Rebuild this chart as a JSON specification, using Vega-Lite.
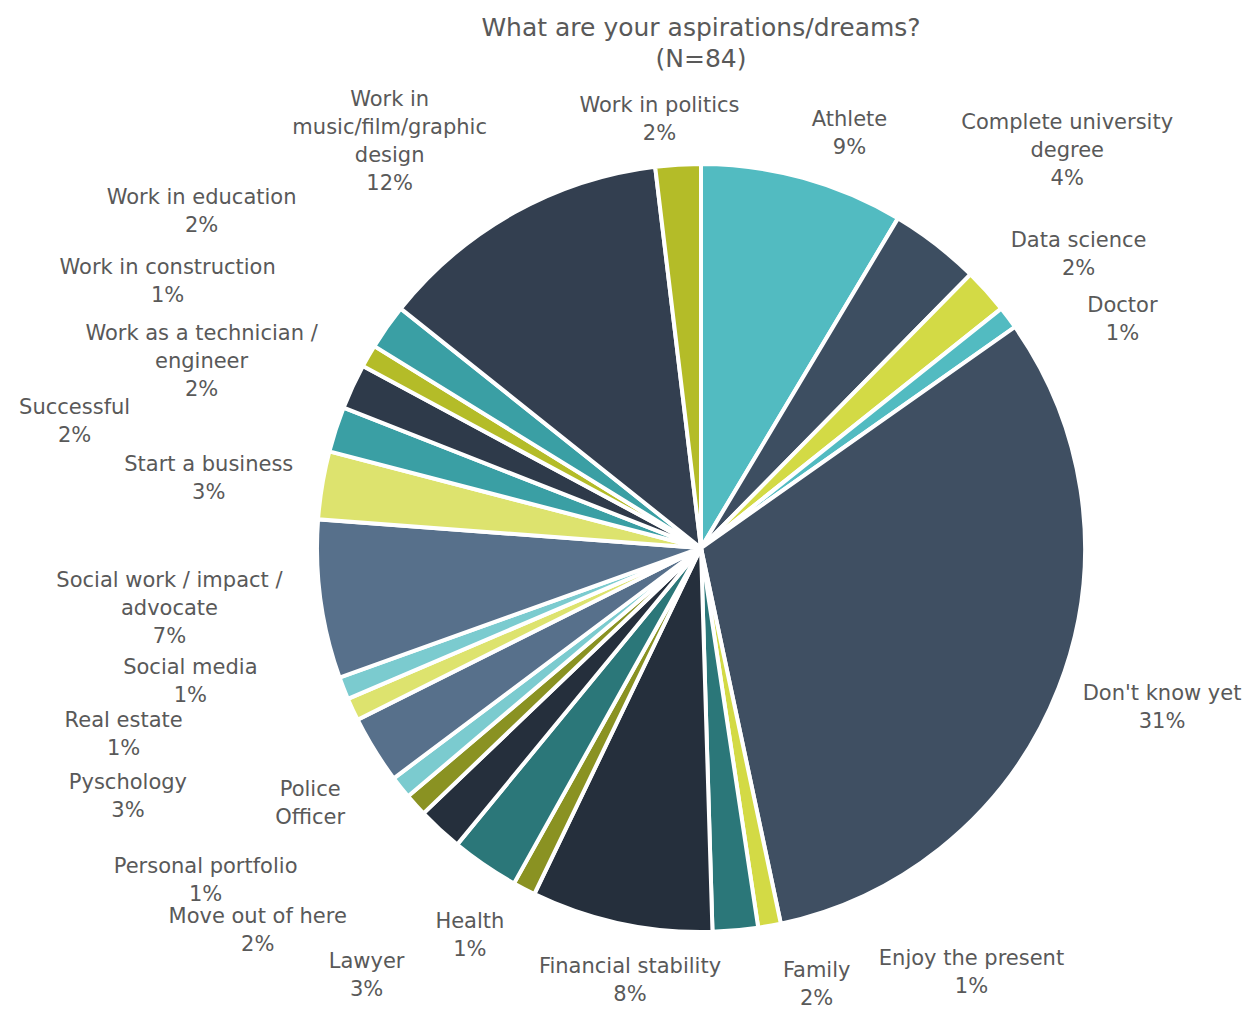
{
  "$schema": "https://vega.github.io/schema/vega-lite/v6.json",
  "width": 1092,
  "height": 932,
  "autosize": {"type": "none"},
  "padding": {"left": 155, "top": 82, "right": 0, "bottom": 0},
  "background": "white",
  "title": {
    "text": ["What are your aspirations/dreams?", "(N=84)"],
    "fontSize": 25,
    "font": "DejaVu Sans",
    "fontWeight": "normal",
    "color": "#595959",
    "anchor": "middle",
    "lineHeight": 31,
    "offset": 10
  },
  "config": {
    "view": {"stroke": null},
    "text": {"font": "DejaVu Sans", "fontSize": 21, "color": "#595959", "lineBreak": "\n", "lineHeight": 28, "align": "center", "baseline": "middle"}
  },
  "data": {
    "values": [
      {"name": "Athlete", "count": 9, "label": "Athlete\n9%"},
      {"name": "Complete university degree", "count": 4, "label": "Complete university\ndegree\n4%"},
      {"name": "Data science", "count": 2, "label": "Data science\n2%"},
      {"name": "Doctor", "count": 1, "label": "Doctor\n1%"},
      {"name": "Don't know yet", "count": 33, "label": "Don't know yet\n31%"},
      {"name": "Enjoy the present", "count": 1, "label": "Enjoy the present\n1%"},
      {"name": "Family", "count": 2, "label": "Family\n2%"},
      {"name": "Financial stability", "count": 8, "label": "Financial stability\n8%"},
      {"name": "Health", "count": 1, "label": "Health\n1%"},
      {"name": "Lawyer", "count": 3, "label": "Lawyer\n3%"},
      {"name": "Move out of here", "count": 2, "label": "Move out of here\n2%"},
      {"name": "Personal portfolio", "count": 1, "label": "Personal portfolio\n1%"},
      {"name": "Police Officer", "count": 1, "label": "Police\nOfficer"},
      {"name": "Pyschology", "count": 3, "label": "Pyschology\n3%"},
      {"name": "Real estate", "count": 1, "label": "Real estate\n1%"},
      {"name": "Social media", "count": 1, "label": "Social media\n1%"},
      {"name": "Social work / impact / advocate", "count": 7, "label": "Social work / impact /\nadvocate\n7%"},
      {"name": "Start a business", "count": 3, "label": "Start a business\n3%"},
      {"name": "Successful", "count": 2, "label": "Successful\n2%"},
      {"name": "Work as a technician / engineer", "count": 2, "label": "Work as a technician /\nengineer\n2%"},
      {"name": "Work in construction", "count": 1, "label": "Work in construction\n1%"},
      {"name": "Work in education", "count": 2, "label": "Work in education\n2%"},
      {"name": "Work in music/film/graphic design", "count": 13, "label": "Work in\nmusic/film/graphic\ndesign\n12%"},
      {"name": "Work in politics", "count": 2, "label": "Work in politics\n2%"}
    ]
  },
  "transform": [
    {"stack": "count", "groupby": [], "sort": [{"field": "name", "order": "ascending"}], "as": ["c0", "c1"]}
  ],
  "layer": [
    {
      "mark": {"type": "arc", "outerRadius": 384, "stroke": "white", "strokeWidth": 4},
      "encoding": {
        "theta": {"field": "c0", "type": "quantitative", "stack": null, "scale": {"domain": [0, 105]}},
        "theta2": {"field": "c1"},
        "color": {
          "field": "name", "type": "nominal", "legend": null,
          "scale": {
            "domain": ["Athlete", "Complete university degree", "Data science", "Doctor", "Don't know yet", "Enjoy the present", "Family", "Financial stability", "Health", "Lawyer", "Move out of here", "Personal portfolio", "Police Officer", "Pyschology", "Real estate", "Social media", "Social work / impact / advocate", "Start a business", "Successful", "Work as a technician / engineer", "Work in construction", "Work in education", "Work in music/film/graphic design", "Work in politics"],
            "range": ["#52BBC1", "#3D4E61", "#D3DA45", "#52BBC1", "#3F4F62", "#D3DA45", "#2B7779", "#252F3C", "#8A9222", "#2B7779", "#252F3C", "#8A9222", "#7BCBCF", "#57708B", "#DDE36E", "#7BCBCF", "#57708B", "#DDE36E", "#3A9FA4", "#2E3A4A", "#B4BC28", "#3A9FA4", "#333F50", "#B4BC28"]
          }
        }
      }
    },
    {"transform": [{"filter": {"field": "name", "equal": "Athlete"}}, {"fold": ["c0", "c1"], "as": ["k", "v"]}], "mark": {"type": "text", "radius": 440, "thetaOffset": 0.075, "dy": -14}, "encoding": {"theta": {"aggregate": "mean", "field": "v", "type": "quantitative"}, "text": {"field": "label", "type": "nominal"}}},
    {"transform": [{"filter": {"field": "name", "equal": "Complete university degree"}}, {"fold": ["c0", "c1"], "as": ["k", "v"]}], "mark": {"type": "text", "radius": 540, "thetaOffset": 0.087, "dy": -28}, "encoding": {"theta": {"aggregate": "mean", "field": "v", "type": "quantitative"}, "text": {"field": "label", "type": "nominal"}}},
    {"transform": [{"filter": {"field": "name", "equal": "Data science"}}, {"fold": ["c0", "c1"], "as": ["k", "v"]}], "mark": {"type": "text", "radius": 478, "thetaOffset": 0.073, "dy": -14}, "encoding": {"theta": {"aggregate": "mean", "field": "v", "type": "quantitative"}, "text": {"field": "label", "type": "nominal"}}},
    {"transform": [{"filter": {"field": "name", "equal": "Doctor"}}, {"fold": ["c0", "c1"], "as": ["k", "v"]}], "mark": {"type": "text", "radius": 479, "thetaOffset": 0.148, "dy": -14}, "encoding": {"theta": {"aggregate": "mean", "field": "v", "type": "quantitative"}, "text": {"field": "label", "type": "nominal"}}},
    {"transform": [{"filter": {"field": "name", "equal": "Don't know yet"}}, {"fold": ["c0", "c1"], "as": ["k", "v"]}], "mark": {"type": "text", "radius": 488, "thetaOffset": -0.04, "dy": -14}, "encoding": {"theta": {"aggregate": "mean", "field": "v", "type": "quantitative"}, "text": {"field": "label", "type": "nominal"}}},
    {"transform": [{"filter": {"field": "name", "equal": "Enjoy the present"}}, {"fold": ["c0", "c1"], "as": ["k", "v"]}], "mark": {"type": "text", "radius": 504, "thetaOffset": -0.387, "dy": -14}, "encoding": {"theta": {"aggregate": "mean", "field": "v", "type": "quantitative"}, "text": {"field": "label", "type": "nominal"}}},
    {"transform": [{"filter": {"field": "name", "equal": "Family"}}, {"fold": ["c0", "c1"], "as": ["k", "v"]}], "mark": {"type": "text", "radius": 452, "thetaOffset": -0.169, "dy": -14}, "encoding": {"theta": {"aggregate": "mean", "field": "v", "type": "quantitative"}, "text": {"field": "label", "type": "nominal"}}},
    {"transform": [{"filter": {"field": "name", "equal": "Financial stability"}}, {"fold": ["c0", "c1"], "as": ["k", "v"]}], "mark": {"type": "text", "radius": 439, "thetaOffset": -0.047, "dy": -14}, "encoding": {"theta": {"aggregate": "mean", "field": "v", "type": "quantitative"}, "text": {"field": "label", "type": "nominal"}}},
    {"transform": [{"filter": {"field": "name", "equal": "Health"}}, {"fold": ["c0", "c1"], "as": ["k", "v"]}], "mark": {"type": "text", "radius": 452, "thetaOffset": 0.058, "dy": -14}, "encoding": {"theta": {"aggregate": "mean", "field": "v", "type": "quantitative"}, "text": {"field": "label", "type": "nominal"}}},
    {"transform": [{"filter": {"field": "name", "equal": "Lawyer"}}, {"fold": ["c0", "c1"], "as": ["k", "v"]}], "mark": {"type": "text", "radius": 543, "thetaOffset": 0.065, "dy": -14}, "encoding": {"theta": {"aggregate": "mean", "field": "v", "type": "quantitative"}, "text": {"field": "label", "type": "nominal"}}},
    {"transform": [{"filter": {"field": "name", "equal": "Move out of here"}}, {"fold": ["c0", "c1"], "as": ["k", "v"]}], "mark": {"type": "text", "radius": 586, "thetaOffset": 0.11, "dy": -14}, "encoding": {"theta": {"aggregate": "mean", "field": "v", "type": "quantitative"}, "text": {"field": "label", "type": "nominal"}}},
    {"transform": [{"filter": {"field": "name", "equal": "Personal portfolio"}}, {"fold": ["c0", "c1"], "as": ["k", "v"]}], "mark": {"type": "text", "radius": 597, "thetaOffset": 0.141, "dy": -14}, "encoding": {"theta": {"aggregate": "mean", "field": "v", "type": "quantitative"}, "text": {"field": "label", "type": "nominal"}}},
    {"transform": [{"filter": {"field": "name", "equal": "Police Officer"}}, {"fold": ["c0", "c1"], "as": ["k", "v"]}], "mark": {"type": "text", "radius": 467, "thetaOffset": 0.094, "dy": -14}, "encoding": {"theta": {"aggregate": "mean", "field": "v", "type": "quantitative"}, "text": {"field": "label", "type": "nominal"}}},
    {"transform": [{"filter": {"field": "name", "equal": "Pyschology"}}, {"fold": ["c0", "c1"], "as": ["k", "v"]}], "mark": {"type": "text", "radius": 625, "thetaOffset": 0.143, "dy": -14}, "encoding": {"theta": {"aggregate": "mean", "field": "v", "type": "quantitative"}, "text": {"field": "label", "type": "nominal"}}},
    {"transform": [{"filter": {"field": "name", "equal": "Real estate"}}, {"fold": ["c0", "c1"], "as": ["k", "v"]}], "mark": {"type": "text", "radius": 607, "thetaOffset": 0.12, "dy": -14}, "encoding": {"theta": {"aggregate": "mean", "field": "v", "type": "quantitative"}, "text": {"field": "label", "type": "nominal"}}},
    {"transform": [{"filter": {"field": "name", "equal": "Social media"}}, {"fold": ["c0", "c1"], "as": ["k", "v"]}], "mark": {"type": "text", "radius": 528, "thetaOffset": 0.117, "dy": -14}, "encoding": {"theta": {"aggregate": "mean", "field": "v", "type": "quantitative"}, "text": {"field": "label", "type": "nominal"}}},
    {"transform": [{"filter": {"field": "name", "equal": "Social work / impact / advocate"}}, {"fold": ["c0", "c1"], "as": ["k", "v"]}], "mark": {"type": "text", "radius": 535, "thetaOffset": 0.021, "dy": -28}, "encoding": {"theta": {"aggregate": "mean", "field": "v", "type": "quantitative"}, "text": {"field": "label", "type": "nominal"}}},
    {"transform": [{"filter": {"field": "name", "equal": "Start a business"}}, {"fold": ["c0", "c1"], "as": ["k", "v"]}], "mark": {"type": "text", "radius": 497, "thetaOffset": -0.026, "dy": -14}, "encoding": {"theta": {"aggregate": "mean", "field": "v", "type": "quantitative"}, "text": {"field": "label", "type": "nominal"}}},
    {"transform": [{"filter": {"field": "name", "equal": "Successful"}}, {"fold": ["c0", "c1"], "as": ["k", "v"]}], "mark": {"type": "text", "radius": 639, "thetaOffset": -0.115, "dy": -14}, "encoding": {"theta": {"aggregate": "mean", "field": "v", "type": "quantitative"}, "text": {"field": "label", "type": "nominal"}}},
    {"transform": [{"filter": {"field": "name", "equal": "Work as a technician / engineer"}}, {"fold": ["c0", "c1"], "as": ["k", "v"]}], "mark": {"type": "text", "radius": 533, "thetaOffset": -0.077, "dy": -28}, "encoding": {"theta": {"aggregate": "mean", "field": "v", "type": "quantitative"}, "text": {"field": "label", "type": "nominal"}}},
    {"transform": [{"filter": {"field": "name", "equal": "Work in construction"}}, {"fold": ["c0", "c1"], "as": ["k", "v"]}], "mark": {"type": "text", "radius": 596, "thetaOffset": -0.061, "dy": -14}, "encoding": {"theta": {"aggregate": "mean", "field": "v", "type": "quantitative"}, "text": {"field": "label", "type": "nominal"}}},
    {"transform": [{"filter": {"field": "name", "equal": "Work in education"}}, {"fold": ["c0", "c1"], "as": ["k", "v"]}], "mark": {"type": "text", "radius": 602, "thetaOffset": -0.021, "dy": -14}, "encoding": {"theta": {"aggregate": "mean", "field": "v", "type": "quantitative"}, "text": {"field": "label", "type": "nominal"}}},
    {"transform": [{"filter": {"field": "name", "equal": "Work in music/film/graphic design"}}, {"fold": ["c0", "c1"], "as": ["k", "v"]}], "mark": {"type": "text", "radius": 512, "thetaOffset": -0.145, "dy": -42}, "encoding": {"theta": {"aggregate": "mean", "field": "v", "type": "quantitative"}, "text": {"field": "label", "type": "nominal"}}},
    {"transform": [{"filter": {"field": "name", "equal": "Work in politics"}}, {"fold": ["c0", "c1"], "as": ["k", "v"]}], "mark": {"type": "text", "radius": 430, "thetaOffset": -0.037, "dy": -14}, "encoding": {"theta": {"aggregate": "mean", "field": "v", "type": "quantitative"}, "text": {"field": "label", "type": "nominal"}}}
  ]
}
